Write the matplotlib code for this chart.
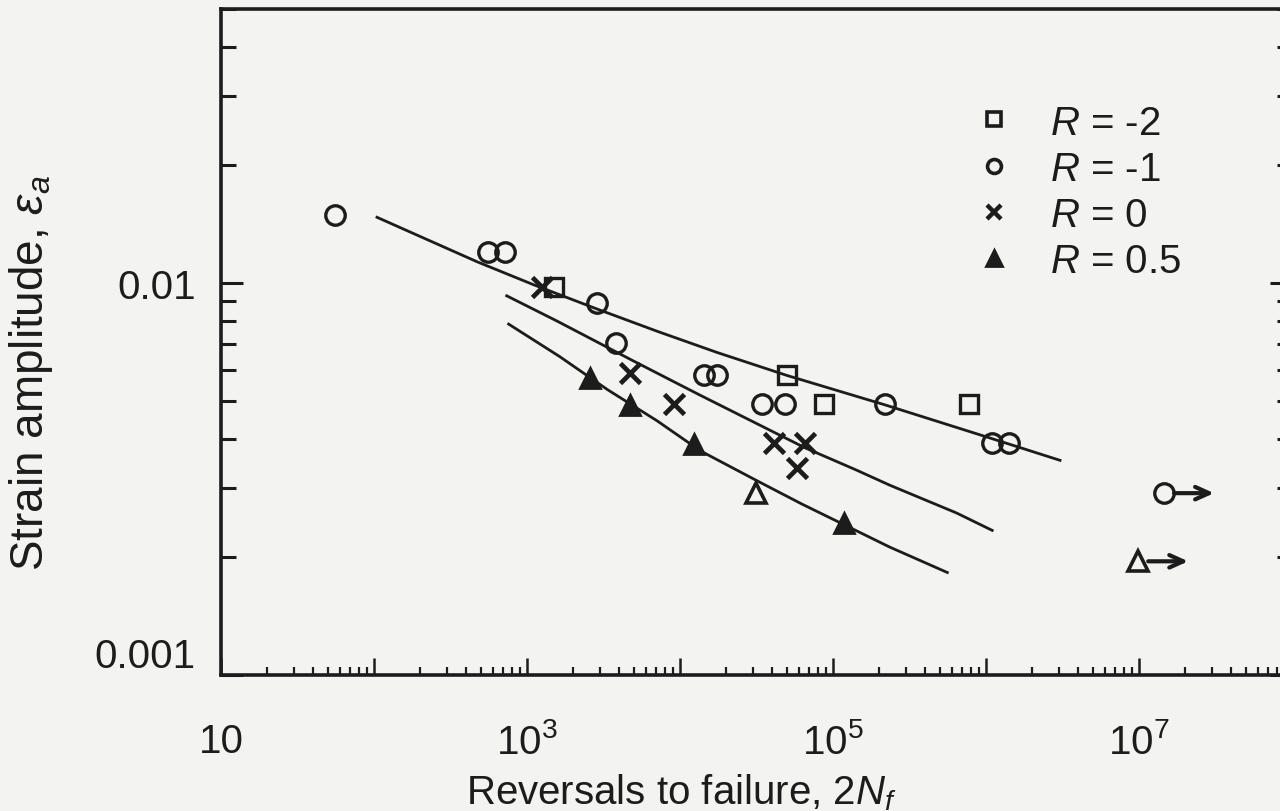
import numpy as np
import matplotlib.pyplot as plt
from matplotlib.lines import Line2D
from matplotlib.ticker import LogLocator, NullFormatter

plt.rcParams['font.family'] = ['Liberation Sans', 'DejaVu Sans']
plt.rcParams['mathtext.fontset'] = 'custom'
plt.rcParams['mathtext.rm'] = 'Liberation Sans'
plt.rcParams['mathtext.it'] = 'Liberation Sans:italic'

INK = '#1c1c1c'
BG = '#f3f3f1'

# R = -2 (squares)
sq_n = [1510, 50000, 87100, 769000]
sq_e = [0.00976, 0.00581, 0.0049, 0.0049]

# R = -1 (circles), last one is a run-out
ci_n = [55.5, 552, 713, 2877, 3830, 14350, 17460, 34360, 48500, 217800, 1.087e6, 1.42e6]
ci_e = [0.0149, 0.0120, 0.0120, 0.00889, 0.00702, 0.00581, 0.00581, 0.0049, 0.0049, 0.0049, 0.00391, 0.00391]
ci_run_n = [1.46e7]
ci_run_e = [0.00291]

# R = 0 (crosses)
x_n = [1259, 4730, 9160, 41100, 65500, 58100]
x_e = [0.00976, 0.00588, 0.00492, 0.00391, 0.00391, 0.00337]

# R = 0.5 (triangles): filled, open, run-out
tri_n = [2590, 4730, 12360, 117500]
tri_e = [0.00574, 0.00487, 0.00389, 0.00244]
tri_open_n = [31300]
tri_open_e = [0.00291]
tri_run_n = [9.9e6]
tri_run_e = [0.00195]

# fitted curves
top_n = [102.6, 224, 474, 1117, 2877, 7100, 17460, 50000, 217800, 1.007e6, 3.108e6]
top_e = [0.01476, 0.01289, 0.01132, 0.00988, 0.00858, 0.00753, 0.00665, 0.00581, 0.00489, 0.00405, 0.00352]
mid_n = [723, 1578, 4868, 13320, 32810, 65470, 142900, 234700, 642100, 1.119e6]
mid_e = [0.00931, 0.00799, 0.00635, 0.00519, 0.00435, 0.00380, 0.00333, 0.00305, 0.00259, 0.00233]
bot_n = [745, 1626, 3346, 7089, 13600, 31860, 62570, 117600, 234700, 569300]
bot_e = [0.00789, 0.00650, 0.00535, 0.00445, 0.00373, 0.00313, 0.00273, 0.00242, 0.00212, 0.00182]

xticks = [10, 1e2, 1e3, 1e4, 1e5, 1e6, 1e7, 1e8]
xticklabels = ['10', '', r'$10^3$', '', r'$10^5$', '', r'$10^7$', '']
yticks = [0.001, 0.01]
yticklabels = ['0.001', '0.01']
legend_labels = [r'$R$ = -2', r'$R$ = -1', r'$R$ = 0', r'$R$ = 0.5']

fig = plt.figure(figsize=(12.8, 8.12), dpi=100, facecolor=BG)
# right edge of the axes runs past the picture, as in the scan
ax = fig.add_axes([221/1280, 136/812, 1071/1280, 666/812])
ax.set_facecolor(BG)
ax.set_xscale('log')
ax.set_yscale('log')
ax.set_xlim(10, 1e8)
ax.set_ylim(0.001, 0.05)

for n, e in [(top_n, top_e), (mid_n, mid_e), (bot_n, bot_e)]:
    ax.plot(n, e, color=INK, lw=2.0, solid_capstyle='butt', solid_joinstyle='round')

ax.plot(sq_n, sq_e, 's', ms=13, mfc='none', mec=INK, mew=2.4)
ax.plot(ci_n, ci_e, 'o', ms=14, mfc='none', mec=INK, mew=2.4)
ax.plot(ci_run_n, ci_run_e, 'o', ms=14, mfc='none', mec=INK, mew=2.4)
ax.plot(x_n, x_e, 'x', ms=14, mec=INK, mew=3.4)
ax.plot(tri_n, tri_e, '^', ms=15, mfc=INK, mec=INK, mew=2)
ax.plot(tri_open_n, tri_open_e, '^', ms=15, mfc='none', mec=INK, mew=2.6)
ax.plot(tri_run_n, tri_run_e, '^', ms=15, mfc='none', mec=INK, mew=2.6)

# run-out arrows
for n, e in zip(ci_run_n + tri_run_n, ci_run_e + tri_run_e):
    ax.annotate('', xy=(n * 2.12, e), xytext=(n * 1.16, e),
                arrowprops=dict(arrowstyle='->,head_length=1.0,head_width=0.45',
                                color=INK, lw=3.0, shrinkA=0, shrinkB=0))

ax.set_xticks(xticks, xticklabels)
ax.set_yticks(yticks, yticklabels)
ax.xaxis.set_minor_locator(LogLocator(base=10, subs=np.arange(2, 10)))
ax.yaxis.set_minor_locator(LogLocator(base=10, subs=np.arange(2, 10)))
ax.xaxis.set_minor_formatter(NullFormatter())
ax.yaxis.set_minor_formatter(NullFormatter())

ax.tick_params(axis='x', which='major', direction='in', length=12, width=1.8,
               pad=34, labelsize=29, colors=INK)
ax.tick_params(axis='x', which='minor', direction='in', length=6, width=1.6, colors=INK)
ax.tick_params(axis='y', which='major', direction='in', length=16, width=2.2,
               pad=18, labelsize=29, right=True, colors=INK)
ax.tick_params(axis='y', which='minor', direction='in', length=11, width=2.2,
               right=True, colors=INK)
for s in ax.spines.values():
    s.set_linewidth(2.6)
    s.set_color(INK)

# the 0.001 label sits a little above the bottom spine in the scan
ax.get_yticklabels()[0].set_va('bottom')

ax.set_xlabel(r'Reversals to failure, 2$N_f$', fontsize=29, color=INK)
ax.set_ylabel(r'Strain amplitude, $ε_a$', fontsize=33, color=INK)
ax.xaxis.set_label_coords(0.43, -0.145)
ax.yaxis.set_label_coords(-0.155, 0.455)

handles = [
    Line2D([], [], ls='none', marker='s', ms=10, mfc='none', mec=INK, mew=2.6),
    Line2D([], [], ls='none', marker='o', ms=10, mfc='none', mec=INK, mew=2.6),
    Line2D([], [], ls='none', marker='x', ms=10, mec=INK, mew=3.2),
    Line2D([], [], ls='none', marker='^', ms=11, mfc=INK, mec=INK, mew=2),
]
ax.legend(handles, legend_labels, loc='upper left', bbox_to_anchor=(0.703, 0.858),
          frameon=False, fontsize=29, handlelength=1.0, handletextpad=0.9,
          labelspacing=0.2, borderpad=0, borderaxespad=0, labelcolor=INK)

fig.savefig('out.png', dpi=100, facecolor=BG)
